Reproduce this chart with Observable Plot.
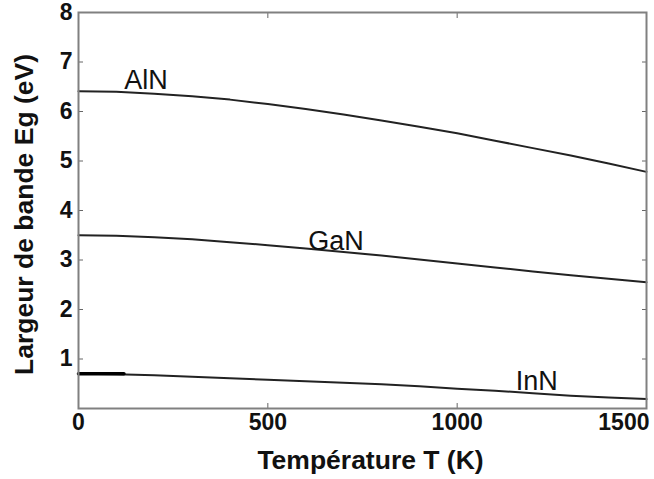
<!DOCTYPE html>
<html>
<head>
<meta charset="utf-8">
<script src="https://cdn.jsdelivr.net/npm/d3@7"></script>
<script src="https://cdn.jsdelivr.net/npm/@observablehq/plot@0.6"></script>
<style>
  html, body { margin: 0; padding: 0; background: #fff; }
  svg { font-family: "Liberation Sans", Arial, sans-serif; }
</style>
</head>
<body>
<div id="chart"></div>
<script>
// Temperature samples (K)
const temps = [0, 100, 200, 300, 400, 500, 600, 700, 800, 900, 1000, 1100, 1200, 1300, 1400, 1500];
// Band gap values (eV)
const alnEg = [6.41, 6.40, 6.36, 6.31, 6.24, 6.15, 6.05, 5.94, 5.82, 5.69, 5.56, 5.41, 5.26, 5.11, 4.95, 4.78];
const ganEg = [3.50, 3.49, 3.46, 3.42, 3.36, 3.30, 3.23, 3.16, 3.09, 3.01, 2.93, 2.85, 2.77, 2.69, 2.62, 2.55];
const innEg = [0.70, 0.69, 0.67, 0.64, 0.61, 0.58, 0.55, 0.52, 0.49, 0.45, 0.40, 0.36, 0.31, 0.26, 0.22, 0.19];
// Short thick overlay on InN near low temperatures
const innThickT = [0, 120];
const innThickEg = [0.70, 0.70];

const seriesNames = ["AlN", "GaN", "InN"];
const seriesValues = [alnEg, ganEg, innEg];
// Curve label anchors (T, Eg) — baseline positions
const labelT = [178, 680, 1210];
const labelEg = [6.45, 3.2, 0.37];

const xTicks = [0, 500, 1000, 1500];
const yTicks = [1, 2, 3, 4, 5, 6, 7, 8];
const xLabel = "Température T (K)";
const yLabel = "Largeur de bande Eg (eV)";

const rows = [];
seriesNames.forEach((name, i) => {
  temps.forEach((t, j) => rows.push({series: name, T: t, Eg: seriesValues[i][j]}));
});
const thick = innThickT.map((t, j) => ({T: t, Eg: innThickEg[j]}));
const labels = seriesNames.map((name, i) => ({name, T: labelT[i], Eg: labelEg[i]}));

const textColor = "#111";
const fmt = d => String(d);
const chart = Plot.plot({
  width: 654,
  height: 479,
  marginLeft: 78,
  marginTop: 12,
  marginRight: 8,
  marginBottom: 71,
  x: {domain: [0, 1500]},
  y: {domain: [0, 8]},
  marks: [
    Plot.line(rows, {x: "T", y: "Eg", z: "series", stroke: "#222", strokeWidth: 2}),
    Plot.line(thick, {x: "T", y: "Eg", stroke: "#000", strokeWidth: 3.5}),
    Plot.text(labels, {x: "T", y: "Eg", text: "name", fontSize: 27, fill: textColor, lineAnchor: "bottom"}),
    // inward ticks
    Plot.axisX({ticks: [500, 1000], tickSize: -5, tickFormat: () => "", label: null, stroke: "#666"}),
    Plot.axisX({anchor: "top", ticks: [500, 1000], tickSize: -5, tickFormat: () => "", label: null, stroke: "#666"}),
    Plot.axisY({ticks: [1, 2, 3, 4, 5, 6, 7], tickSize: -5, tickFormat: () => "", label: null, stroke: "#666"}),
    Plot.axisY({anchor: "right", ticks: [1, 2, 3, 4, 5, 6, 7], tickSize: -5, tickFormat: () => "", label: null, stroke: "#666"}),
    // tick labels
    Plot.axisX({ticks: xTicks.slice(0, 3), tickSize: 0, tickPadding: 5, tickFormat: fmt, label: null, fontSize: 23, fontWeight: "bold", fill: textColor}),
    Plot.axisX({ticks: xTicks.slice(3), tickSize: 0, tickPadding: 5, tickFormat: fmt, label: null, fontSize: 23, fontWeight: "bold", fill: textColor, textAnchor: "end", dx: 3}),
    Plot.axisY({ticks: yTicks, tickSize: 0, tickPadding: 6, tickFormat: fmt, label: null, fontSize: 23, fontWeight: "bold", fill: textColor}),
    Plot.frame({stroke: "#808080", strokeWidth: 2}),
    // axis titles
    Plot.text([xLabel], {text: d => d, frameAnchor: "bottom", textAnchor: "middle", lineAnchor: "middle", dy: 52, dx: 8, fontSize: 26.5, fontWeight: "bold", fill: textColor}),
    Plot.text([yLabel], {text: d => d, frameAnchor: "left", textAnchor: "middle", lineAnchor: "middle", rotate: -90, dx: -54, dy: 4, fontSize: 26.5, fontWeight: "bold", fill: textColor})
  ]
});
document.getElementById("chart").appendChild(chart);
</script>
</body>
</html>
